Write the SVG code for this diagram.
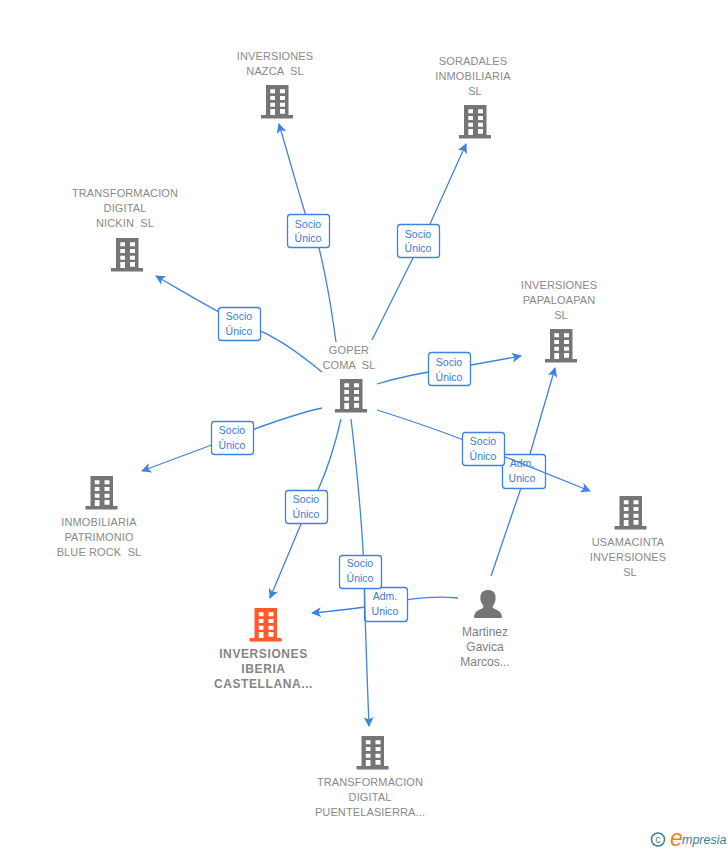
<svg xmlns="http://www.w3.org/2000/svg" width="728" height="850" viewBox="0 0 728 850">
<style>
text{font-family:"Liberation Sans",Arial,sans-serif;white-space:pre}
.n{font-size:11px;fill:#8a8a8a;text-anchor:middle;letter-spacing:.12px}
.h{font-size:12px;font-weight:bold;fill:#858585;text-anchor:middle;letter-spacing:.6px}
.p{font-size:12px;fill:#808080;text-anchor:middle}
.e{fill:none;stroke:#3f83e0;stroke-width:1.3}
.b{fill:#fff;stroke:#3f83e0;stroke-width:1.3}
.l{font-size:10.5px;fill:#3a7bd5;text-anchor:middle}
.g{fill:#757575}
</style>
<defs>
<marker id="a" markerWidth="12" markerHeight="12" refX="9" refY="5" orient="auto" markerUnits="userSpaceOnUse"><path d="M0 0L10 5L0 10L2.5 5Z" fill="#3f83e0"/></marker>
<path id="bld" fill-rule="evenodd" d="M-11-17H11.500V13H16V16.500H-16V13H-11ZM-6.700-12.700V-8.700H-2V-12.700ZM3-12.700V-8.700H8V-12.700ZM-6.700-6V-2H-2V-6ZM3-6V-2H8V-6ZM-6.700 .7V4.700H-2V.7ZM3 .7V4.700H8V.7ZM-6.700 7V13H-2V7ZM3 7V11.700H8V7Z"/>
</defs>
<g id="connectors">
<path class="e" marker-end="url(#a)" d="M491 576L521 488L530 454L555 368"/>
<path class="e" marker-end="url(#a)" d="M458 598C435 596 410 598 386 604C360 608 335 611 312 613"/>
</g>
<g id="label-adm-1"><rect class="b" x="502.500" y="454.500" width="43" height="34" rx="3"/><text class="l" x="522" y="467">Adm.</text><text class="l" x="522" y="482">Unico</text></g>
<g id="label-adm-2"><rect class="b" x="364.500" y="587.500" width="43" height="34" rx="3"/><text class="l" x="385" y="600">Adm.</text><text class="l" x="385" y="615">Unico</text></g>
<g id="connectors-socio">
<path class="e" marker-end="url(#a)" d="M336 342C331 305 325 272 319 248L305 213C296 183 287 152 279 124"/>
<path class="e" marker-end="url(#a)" d="M372 340L413 258L430 224L466 144"/>
<path class="e" marker-end="url(#a)" d="M322 372C295 350 270 332 240 323C210 308 182 291 156 276"/>
<path class="e" marker-end="url(#a)" d="M322 408C290 415 260 427 233 437L142 471"/>
<path class="e" marker-end="url(#a)" d="M377 384C400 377 425 372 449 369L521 356"/>
<path class="e" marker-end="url(#a)" d="M377 410C412 421 450 434 483 448L590 491"/>
<path class="e" marker-end="url(#a)" d="M341 419C335 445 328 468 318 490L301 524L270 598"/>
<path class="e" marker-end="url(#a)" d="M351 419C357 470 362 520 364 571C365 620 367 675 369 726"/>
</g>
<g id="label-1"><rect class="b" x="287.500" y="214.500" width="42" height="33" rx="3"/><text class="l" x="308" y="228">Socio</text><text class="l" x="308" y="242">Único</text></g>
<g id="label-2"><rect class="b" x="397.500" y="224.500" width="42" height="33" rx="3"/><text class="l" x="418" y="238">Socio</text><text class="l" x="418" y="252">Único</text></g>
<g id="label-3"><rect class="b" x="218.500" y="307.500" width="42" height="33" rx="3"/><text class="l" x="239" y="320">Socio</text><text class="l" x="239" y="335">Único</text></g>
<g id="label-4"><rect class="b" x="428.500" y="352.500" width="42" height="33" rx="3"/><text class="l" x="449" y="366">Socio</text><text class="l" x="449" y="381">Único</text></g>
<g id="label-5"><rect class="b" x="211.500" y="421.500" width="42" height="33" rx="3"/><text class="l" x="232" y="434">Socio</text><text class="l" x="232" y="449">Único</text></g>
<g id="label-6"><rect class="b" x="462.500" y="432.500" width="42" height="33" rx="3"/><text class="l" x="483" y="445">Socio</text><text class="l" x="483" y="460">Único</text></g>
<g id="label-7"><rect class="b" x="285.500" y="490.500" width="42" height="33" rx="3"/><text class="l" x="306" y="503">Socio</text><text class="l" x="306" y="518">Único</text></g>
<g id="label-8"><rect class="b" x="339.500" y="555.500" width="42" height="33" rx="3"/><text class="l" x="360" y="567">Socio</text><text class="l" x="360" y="582">Único</text></g>
<g id="node-nazca"><text class="n" x="275" y="60">INVERSIONES</text><text class="n" x="275" y="75">NAZCA  SL</text><use href="#bld" class="g" x="277" y="102"/></g>
<g id="node-soradales"><text class="n" x="473" y="65">SORADALES</text><text class="n" x="473" y="80">INMOBILIARIA</text><text class="n" x="475" y="95">SL</text><use href="#bld" class="g" x="475" y="122"/></g>
<g id="node-nickin"><text class="n" x="125" y="197">TRANSFORMACION</text><text class="n" x="125" y="212">DIGITAL</text><text class="n" x="125" y="227">NICKIN  SL</text><use href="#bld" class="g" x="127" y="255"/></g>
<g id="node-papaloapan"><text class="n" x="559" y="289">INVERSIONES</text><text class="n" x="559" y="304">PAPALOAPAN</text><text class="n" x="561" y="319">SL</text><use href="#bld" class="g" x="561" y="346"/></g>
<g id="node-goper"><text class="n" x="349" y="354">GOPER</text><text class="n" x="349" y="369">COMA  SL</text><use href="#bld" class="g" x="351" y="396"/></g>
<g id="node-blue-rock"><use href="#bld" class="g" x="101.500" y="493"/><text class="n" x="99" y="526">INMOBILIARIA</text><text class="n" x="99" y="541">PATRIMONIO</text><text class="n" x="99" y="556">BLUE ROCK  SL</text></g>
<g id="node-usamacinta"><use href="#bld" class="g" x="630.500" y="513"/><text class="n" x="628" y="546">USAMACINTA</text><text class="n" x="628" y="561">INVERSIONES</text><text class="n" x="630" y="576">SL</text></g>
<g id="node-iberia"><use href="#bld" fill="#ff5a2c" x="265.500" y="625"/><text class="h" x="263.500" y="658">INVERSIONES</text><text class="h" x="263.500" y="673">IBERIA</text><text class="h" x="263.500" y="688">CASTELLANA...</text></g>
<g id="node-puente"><use href="#bld" class="g" x="372.500" y="753"/><text class="n" x="370" y="786">TRANSFORMACION</text><text class="n" x="370" y="801">DIGITAL</text><text class="n" x="370" y="816">PUENTELASIERRA...</text></g>
<g id="node-martinez"><path class="g" d="M474 618C474 611 479 610 483 608C484 606 483 605 481 602C479 594 482 590 488 590C494 590 497 594 495 602C494 605 492 606 493 608C497 610 502 611 502 618Z"/><text class="p" x="485" y="636">Martinez</text><text class="p" x="485" y="651">Gavica</text><text class="p" x="485" y="666">Marcos...</text></g>
<g id="logo"><circle cx="658" cy="839.500" r="6.500" fill="none" stroke="#3e7f8f" stroke-width="1.500"/><text x="658" y="843" font-size="10" fill="#3e7f8f" text-anchor="middle">c</text><text x="670" y="846" font-size="23" font-style="italic" fill="#f0801e">e</text><text x="682" y="844" font-size="12.500" font-style="italic" fill="#3e7f8f">mpresia</text></g>
</svg>
